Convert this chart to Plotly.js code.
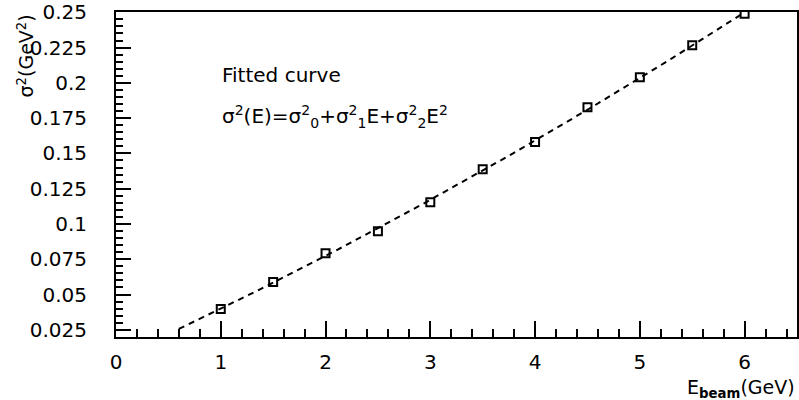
<!DOCTYPE html>
<html>
<head>
<meta charset="utf-8">
<script src="https://cdn.plot.ly/plotly-3.0.1.min.js"></script>
<style>
  html, body { margin: 0; padding: 0; background: #fff; }
  #chart { width: 799px; height: 400px; }
</style>
</head>
<body>
<div id="chart"></div>
<script>
// Beam energy (GeV) and measured energy resolution squared (GeV^2)
const beamEnergy = [1, 1.5, 2, 2.5, 3, 3.5, 4, 4.5, 5, 5.5, 6];
const sigmaSquared = [0.0397, 0.0588, 0.0793, 0.0949, 0.1154, 0.1388, 0.158, 0.1827, 0.204, 0.2266, 0.249];

// Axis tick labels
const xTickVals = [0, 1, 2, 3, 4, 5, 6];
const xTickText = ['0', '1', '2', '3', '4', '5', '6'];
const yTickVals = [0.025, 0.05, 0.075, 0.1, 0.125, 0.15, 0.175, 0.2, 0.225, 0.25];
const yTickText = ['0.025', '0.05', '0.075', '0.1', '0.125', '0.15', '0.175', '0.2', '0.225', '0.25'];

// Energy range over which the fitted curve is drawn
const fitRange = [0.6, 6];

// Least-squares fit of sigma^2(E) = s0 + s1*E + s2*E^2
function quadraticFit(xs, ys) {
  const S = [0, 0, 0, 0, 0], T = [0, 0, 0];
  xs.forEach((x, i) => {
    let p = 1;
    for (let k = 0; k < 5; k++) { S[k] += p; p *= x; }
    T[0] += ys[i]; T[1] += ys[i] * x; T[2] += ys[i] * x * x;
  });
  const M = [[S[0], S[1], S[2], T[0]], [S[1], S[2], S[3], T[1]], [S[2], S[3], S[4], T[2]]];
  for (let c = 0; c < 3; c++) {
    for (let r = c + 1; r < 3; r++) {
      const f = M[r][c] / M[c][c];
      for (let k = c; k < 4; k++) M[r][k] -= f * M[c][k];
    }
  }
  const coef = [0, 0, 0];
  for (let r = 2; r >= 0; r--) {
    let s = M[r][3];
    for (let k = r + 1; k < 3; k++) s -= M[r][k] * coef[k];
    coef[r] = s / M[r][r];
  }
  return coef;
}

const coef = quadraticFit(beamEnergy, sigmaSquared);
const curveX = [], curveY = [];
const nSteps = 100;
for (let i = 0; i <= nSteps; i++) {
  const e = fitRange[0] + (fitRange[1] - fitRange[0]) * i / nSteps;
  curveX.push(e);
  curveY.push(coef[0] + coef[1] * e + coef[2] * e * e);
}

const font = { family: 'DejaVu Sans, sans-serif', size: 20, color: '#000' };

const traces = [
  {
    x: curveX, y: curveY, type: 'scatter', mode: 'lines',
    line: { color: '#000', width: 2, dash: '6px,5px' },
    hoverinfo: 'skip'
  },
  {
    x: beamEnergy, y: sigmaSquared, type: 'scatter', mode: 'markers',
    marker: { symbol: 'square-open', size: 8, color: '#000', line: { width: 2, color: '#000' } }
  }
];

const layout = {
  width: 799, height: 400,
  margin: { l: 116, r: 2, t: 12, b: 63 },
  paper_bgcolor: '#fff', plot_bgcolor: '#fff',
  showlegend: false,
  font: font,
  xaxis: {
    range: [0, 6.5],
    tickmode: 'array', tickvals: xTickVals, ticktext: xTickText,
    ticks: 'inside', ticklen: 16, tickwidth: 2, tickcolor: '#000',
    minor: { dtick: 0.2, tick0: 0, ticks: 'inside', ticklen: 8, tickwidth: 2, tickcolor: '#000', showgrid: false },
    showline: true, linewidth: 2, linecolor: '#000', mirror: true,
    showgrid: false, zeroline: false,
    ticklabelstandoff: 6,
    tickfont: font
  },
  yaxis: {
    range: [0.0199, 0.2502],
    tickmode: 'array', tickvals: yTickVals, ticktext: yTickText,
    ticks: 'inside', ticklen: 15, tickwidth: 2, tickcolor: '#000',
    minor: { dtick: 0.005, tick0: 0, ticks: 'inside', ticklen: 7, tickwidth: 2, tickcolor: '#000', showgrid: false },
    showline: true, linewidth: 2, linecolor: '#000', mirror: true,
    showgrid: false, zeroline: false,
    ticklabelstandoff: 23,
    tickfont: font
  },
  annotations: [
    {
      text: 'Fitted curve', xref: 'paper', yref: 'paper',
      x: (220 - 116) / 681, y: (337 - 75) / 325,
      xanchor: 'left', yanchor: 'middle', showarrow: false,
      font: { family: font.family, size: 20, color: '#000' }
    },
    {
      text: 'σ<sup>2</sup>(E)=σ<sup>2</sup><sub>0</sub>+σ<sup>2</sup><sub>1</sub>E+σ<sup>2</sup><sub>2</sub>E<sup>2</sup>',
      xref: 'paper', yref: 'paper',
      x: (220 - 116) / 681, y: (337 - 117) / 325,
      xanchor: 'left', yanchor: 'middle', showarrow: false,
      font: { family: font.family, size: 20, color: '#000' }
    },
    {
      text: 'E<sub><b>beam</b></sub>(GeV)',
      xref: 'paper', yref: 'paper',
      x: 1, y: (337 - 388) / 325,
      xanchor: 'right', yanchor: 'middle', showarrow: false,
      font: { family: font.family, size: 19, color: '#000' }
    },
    {
      text: 'σ<sup>2</sup>(GeV<sup>2</sup>)',
      xref: 'paper', yref: 'paper', textangle: -90,
      x: (25 - 116) / 681, y: 1.0,
      xanchor: 'center', yanchor: 'top', showarrow: false,
      font: { family: font.family, size: 19, color: '#000' }
    }
  ]
};

Plotly.newPlot('chart', traces, layout, { staticPlot: true, displayModeBar: false });
</script>
</body>
</html>
